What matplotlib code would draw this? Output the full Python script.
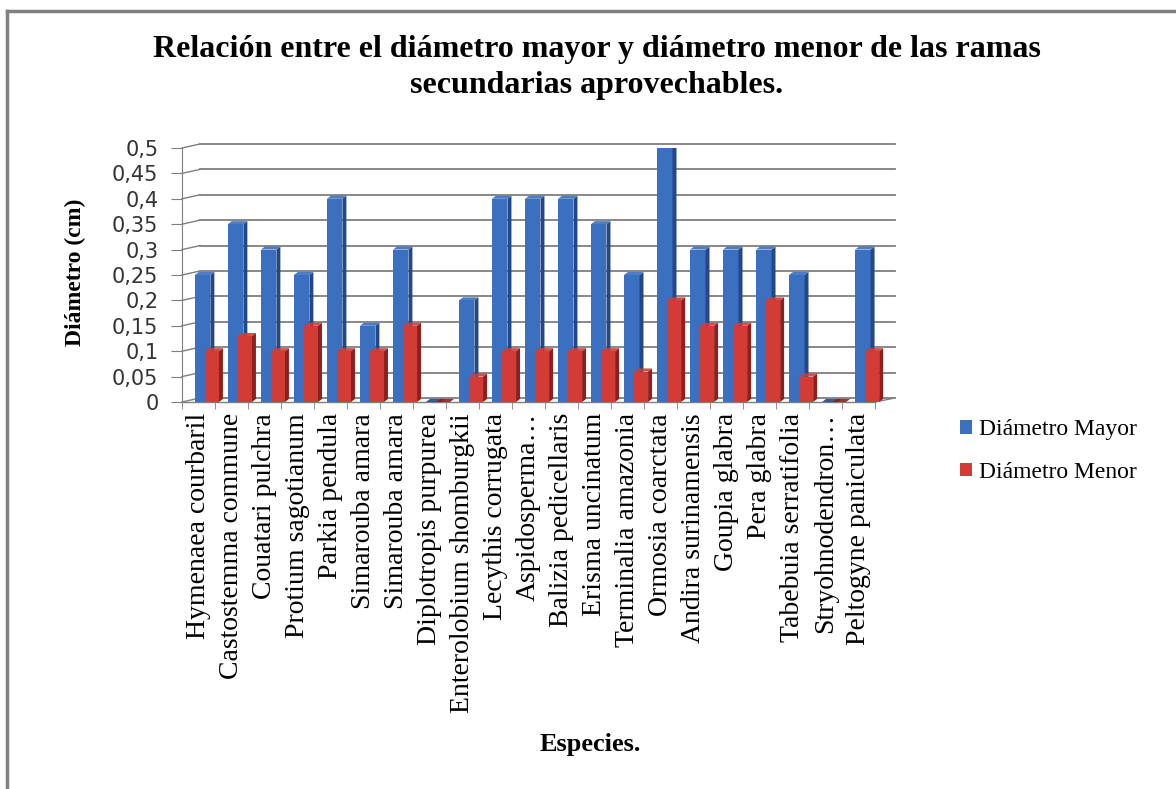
import matplotlib.pyplot as plt
from matplotlib.patches import Polygon, Rectangle, Patch

especies = ['Hymenaea courbaril', 'Castostemma commune', 'Couatari pulchra',
            'Protium sagotianum', 'Parkia pendula', 'Simarouba amara',
            'Simarouba amara', 'Diplotropis purpurea', 'Enterolobium shomburgkii',
            'Lecythis corrugata', 'Aspidosperma…', 'Balizia pedicellaris',
            'Erisma uncinatum', 'Terminalia amazonia', 'Ormosia coarctata',
            'Andira surinamensis', 'Goupia glabra', 'Pera glabra',
            'Tabebuia serratifolia', 'Stryohnodendron…', 'Peltogyne paniculata']
diam_mayor = [0.25, 0.35, 0.3, 0.25, 0.4, 0.15, 0.3, 0, 0.2, 0.4, 0.4,
              0.4, 0.35, 0.25, 0.5, 0.3, 0.3, 0.3, 0.25, 0, 0.3]
diam_menor = [0.1, 0.13, 0.1, 0.15, 0.1, 0.1, 0.15, 0, 0.05, 0.1, 0.1,
              0.1, 0.1, 0.06, 0.2, 0.15, 0.15, 0.2, 0.05, 0, 0.1]
yticks = [0, 0.05, 0.1, 0.15, 0.2, 0.25, 0.3, 0.35, 0.4, 0.45, 0.5]

serif = 'Liberation Serif'
azul, azul_osc = '#3B6FC0', '#24478A'
rojo, rojo_osc = '#D23B36', '#8E1F1C'

fig = plt.figure(figsize=(11.76, 7.89), dpi=100)
ax = fig.add_axes([182/1176, 1 - 402/789, (895 - 182)/1176, 254/789])
n = len(especies)
ax.set_xlim(0, n + 0.6)
ax.set_ylim(0, 0.5)

# depth offsets (pseudo 3D)
gx, gy = 0.55, 0.008
for v in yticks:
    ax.plot([0, gx], [v, v + gy], color='#7f7f7f', lw=1, clip_on=False)
    ax.plot([gx, n + 0.6], [v + gy, v + gy], color='#7f7f7f', lw=1.3, clip_on=False)
ax.plot([0, n], [0, 0], color='#7f7f7f', lw=1, clip_on=False)
ax.plot([n, n + 0.6], [0, gy], color='#7f7f7f', lw=1, clip_on=False)


def barra(x0, w, v, cara, lado):
    dx, dy = 0.12, 0.006
    ax.add_patch(Rectangle((x0, 0), w, v, facecolor=cara, edgecolor='none', zorder=3))
    ax.add_patch(Polygon([(x0 + w, 0), (x0 + w + dx, dy), (x0 + w + dx, v + dy), (x0 + w, v)],
                         facecolor=lado, edgecolor='none', zorder=3))
    ax.add_patch(Polygon([(x0, v), (x0 + dx, v + dy), (x0 + w + dx, v + dy), (x0 + w, v)],
                         facecolor=lado if v == 0 else cara, edgecolor='none', zorder=3,
                         alpha=0.9))


for i in range(n):
    barra(i + 0.39, 0.47, diam_mayor[i], azul, azul_osc)
    barra(i + 0.70, 0.42, diam_menor[i], rojo, rojo_osc)

ax.set_yticks(yticks)
ax.set_yticklabels([str(t).replace('.', ',') for t in yticks], fontsize=15,
                   family='DejaVu Sans', color='#333333')
ax.set_xticks([i + 0.5 for i in range(n)])
ax.set_xticklabels(especies, rotation=90, fontsize=20, family=serif)
ax.set_xticks(range(n + 1), minor=True)
ax.tick_params(axis='x', which='major', length=0, pad=8)
ax.tick_params(axis='x', which='minor', length=5, color='#7f7f7f')
ax.tick_params(axis='y', length=8, color='#7f7f7f', direction='out', pad=9)
for s in ['top', 'right', 'bottom']:
    ax.spines[s].set_visible(False)
ax.spines['left'].set_color('#7f7f7f')

fig.text(597/1176, 1 - 50/789, 'Relación entre el diámetro mayor y diámetro menor de las ramas',
         ha='center', va='center', fontsize=23, fontweight='bold', family=serif)
fig.text(597/1176, 1 - 85/789, 'secundarias aprovechables.',
         ha='center', va='center', fontsize=23, fontweight='bold', family=serif)
fig.text(75/1176, 1 - 272/789, 'Diámetro (cm)', rotation=90, ha='center', va='center',
         fontsize=17, fontweight='bold', family=serif)
fig.text(590/1176, 1 - 745/789, 'Especies.', ha='center', va='center',
         fontsize=19, fontweight='bold', family=serif)

handles = [Patch(facecolor=azul), Patch(facecolor=rojo)]
fig.legend(handles, ['Diámetro Mayor', 'Diámetro Menor'], loc='center left',
           bbox_to_anchor=(939/1176, 1 - 451/789), frameon=False,
           prop={'family': serif, 'size': 17}, handlelength=0.5, handleheight=0.5,
           handletextpad=0.3, labelspacing=0.9)

# outer border (left and top)
fig.add_artist(plt.Line2D([7/1176, 7/1176], [0, 1 - 11/789], color='#808080', lw=2.5))
fig.add_artist(plt.Line2D([7/1176, 1], [1 - 11/789, 1 - 11/789], color='#808080', lw=2.5))

fig.savefig('out.png', dpi=100)
